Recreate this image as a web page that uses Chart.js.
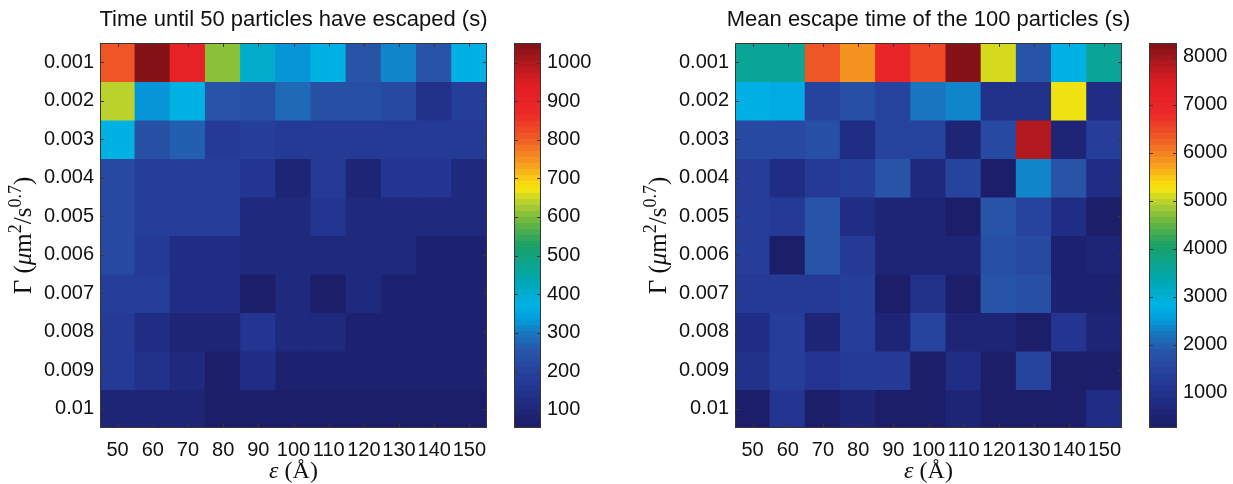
<!DOCTYPE html>
<html><head><meta charset="utf-8">
<script src="https://cdn.jsdelivr.net/npm/chart.js@4.4.1/dist/chart.umd.min.js"></script>
<style>
html,body{margin:0;padding:0;background:#fff;}
#wrap{position:relative;width:1233px;height:484px;overflow:hidden;background:#fff;}
#wrap canvas{position:absolute;top:0;}
</style></head><body>
<div id="wrap">
<canvas id="heatLeft" width="500" height="484" style="left:0px"></canvas>
<canvas id="barLeft" width="135" height="484" style="left:500px"></canvas>
<canvas id="heatRight" width="500" height="484" style="left:635px"></canvas>
<canvas id="barRight" width="98" height="484" style="left:1135px"></canvas>
</div>
<script>
// ---------------- data ----------------
const epsilonLabels = ['50','60','70','80','90','100','110','120','130','140','150'];
const gammaLabels = ['0.001','0.002','0.003','0.004','0.005','0.006','0.007','0.008','0.009','0.01'];

// Time until 50 particles have escaped (s); rows = Gamma, columns = epsilon
const timeUntil50 = [
  [810, 1051, 910, 610, 402, 327, 367, 250, 307, 245, 367],
  [637, 327, 370, 253, 233, 282, 233, 233, 218, 133, 188],
  [367, 230, 268, 173, 185, 170, 170, 165, 165, 165, 165],
  [218, 188, 185, 180, 150, 88, 175, 88, 150, 150, 115],
  [220, 185, 185, 180, 112, 112, 150, 112, 112, 112, 112],
  [215, 165, 130, 130, 112, 112, 112, 112, 112, 80, 80],
  [185, 185, 130, 130, 53, 112, 58, 115, 80, 80, 80],
  [165, 130, 90, 90, 150, 115, 115, 75, 75, 75, 75],
  [165, 135, 112, 62, 122, 70, 70, 70, 70, 70, 70],
  [90, 90, 90, 68, 68, 68, 68, 68, 68, 68, 68]
];

// Mean escape time of the 100 particles (s)
const meanEscapeTime = [
  [3650, 3600, 6300, 5900, 7000, 6450, 8290, 5050, 1800, 2800, 3600],
  [2800, 2700, 1470, 1670, 1470, 2180, 2400, 910, 910, 5200, 790],
  [1630, 1630, 1670, 790, 1470, 1450, 560, 1590, 7900, 560, 1350],
  [1350, 790, 1250, 1350, 1800, 760, 1450, 270, 2330, 1870, 780],
  [1350, 1200, 1800, 830, 620, 620, 350, 1840, 1470, 790, 380],
  [1350, 380, 1800, 1200, 620, 620, 620, 1700, 1600, 420, 620],
  [1250, 1250, 1250, 1300, 330, 900, 350, 1840, 1650, 400, 400],
  [830, 1300, 560, 1300, 580, 1450, 620, 620, 330, 1070, 620],
  [910, 1300, 1070, 1200, 1200, 360, 830, 360, 1450, 380, 380],
  [320, 1070, 350, 620, 380, 380, 620, 380, 380, 380, 830]
];

const leftBarTicks = [100, 200, 300, 400, 500, 600, 700, 800, 900, 1000];
const rightBarTicks = [1000, 2000, 3000, 4000, 5000, 6000, 7000, 8000];

const leftTitle = 'Time until 50 particles have escaped (s)';
const rightTitle = 'Mean escape time of the 100 particles (s)';

// ---------------- style ----------------
const SANS = '"Liberation Sans", Arial, Helvetica, sans-serif';
const SERIF = '"Liberation Serif", "DejaVu Serif", serif';
const TEXT = '#111111';
const FRAME = '#3b3434';
const N_LEVELS = 64;
// jet colormap as it appears in the printed figure
const rampStops = [
  [0.00, 28, 30, 105], [0.06, 32, 44, 132], [0.12, 37, 60, 152], [0.19, 40, 84, 168],
  [0.24, 25, 118, 192], [0.28, 0, 160, 222], [0.315, 0, 178, 230], [0.38, 0, 168, 178],
  [0.47, 25, 160, 105], [0.53, 100, 180, 65], [0.58, 175, 205, 50], [0.625, 250, 230, 12],
  [0.68, 247, 165, 30], [0.75, 240, 95, 38], [0.82, 236, 40, 40], [0.90, 222, 28, 35],
  [0.96, 170, 24, 30], [1.00, 132, 18, 22]
];
function ramp(t) {
  t = Math.max(0, Math.min(1, t));
  for (let i = 1; i < rampStops.length; i++) {
    const a = rampStops[i - 1], b = rampStops[i];
    if (t <= b[0]) {
      const f = (t - a[0]) / (b[0] - a[0]);
      const c = [1, 2, 3].map(k => Math.round(a[k] + (b[k] - a[k]) * f));
      return `rgb(${c[0]},${c[1]},${c[2]})`;
    }
  }
  const l = rampStops[rampStops.length - 1];
  return `rgb(${l[1]},${l[2]},${l[3]})`;
}
function levelColor(v, vmin, vmax) {
  const k = Math.min(N_LEVELS - 1, Math.floor((v - vmin) / (vmax - vmin) * N_LEVELS));
  return ramp(k / (N_LEVELS - 1));
}

function fontOf(p, size) {
  const s = p.sup ? Math.round(size * 0.7) : size;
  return (p.it ? 'italic ' : '') + s + 'px ' + SERIF;
}
function richWidth(ctx, parts, size) {
  let w = 0;
  parts.forEach(p => { ctx.font = fontOf(p, size); p.w = ctx.measureText(p.t).width; w += p.w; });
  return w;
}
function drawRich(ctx, parts, cx, y, size) {
  const total = richWidth(ctx, parts, size);
  let x = cx - total / 2;
  ctx.textAlign = 'left';
  ctx.textBaseline = 'alphabetic';
  parts.forEach(p => {
    ctx.font = fontOf(p, size);
    ctx.fillText(p.t, x, y - (p.sup ? size * 0.42 : 0));
    x += p.w;
  });
}

const xTitleParts = [{t: 'ε', it: true}, {t: ' (Å)'}];
const yTitleParts = [{t: 'Γ'}, {t: ' ('}, {t: 'μ', it: true}, {t: 'm'}, {t: '2', sup: true}, {t: '/s'}, {t: '0.7', sup: true}, {t: ')'}];

function frameAndTicks(chart, ctx, xTicks, yTicks) {
  const a = chart.chartArea;
  ctx.save();
  ctx.strokeStyle = FRAME;
  ctx.lineWidth = 1;
  ctx.beginPath();
  xTicks.forEach(px => {
    px = Math.round(px) + 0.5;
    ctx.moveTo(px, a.bottom); ctx.lineTo(px, a.bottom - 4);
    ctx.moveTo(px, a.top); ctx.lineTo(px, a.top + 4);
  });
  yTicks.forEach(py => {
    py = Math.round(py) + 0.5;
    ctx.moveTo(a.left, py); ctx.lineTo(a.left + 4, py);
    ctx.moveTo(a.right, py); ctx.lineTo(a.right - 4, py);
  });
  ctx.stroke();
  ctx.strokeRect(Math.round(a.left) + 0.5, Math.round(a.top) + 0.5, Math.round(a.right - a.left) - 1, Math.round(a.bottom - a.top) - 1);
  ctx.restore();
}

const heatDecor = {
  id: 'heatDecor',
  afterDraw(chart) {
    const ctx = chart.ctx, a = chart.chartArea;
    const xs = chart.scales.x, ys = chart.scales.y;
    frameAndTicks(chart, ctx,
      xs.ticks.map((t, i) => xs.getPixelForTick(i)),
      ys.ticks.map((t, i) => ys.getPixelForTick(i)));
    ctx.save();
    ctx.fillStyle = TEXT;
    ctx.font = '22px ' + SANS;
    ctx.textAlign = 'center';
    ctx.textBaseline = 'alphabetic';
    ctx.fillText(chart.options.plugins.heatDecor.title, (a.left + a.right) / 2, 26);
    drawRich(ctx, xTitleParts, (a.left + a.right) / 2, 478, 24);
    ctx.translate(31, (a.top + a.bottom) / 2);
    ctx.rotate(-Math.PI / 2);
    drawRich(ctx, yTitleParts, 0, 0, 25);
    ctx.restore();
  }
};

function makeHeatmap(id, values, title) {
  const flat = values.flat();
  const vmin = Math.min(...flat), vmax = Math.max(...flat);
  const datasets = gammaLabels.map((g, r) => ({
    label: g,
    data: epsilonLabels.map(() => [r, r + 1]),
    backgroundColor: values[r].map(v => levelColor(v, vmin, vmax)),
    borderWidth: 0,
    inflateAmount: 0.6,
    barPercentage: 1,
    categoryPercentage: 1,
    grouped: false
  }));
  return new Chart(document.getElementById(id), {
    type: 'bar',
    data: { labels: epsilonLabels, datasets },
    options: {
      responsive: false, animation: false, events: [],
      layout: { padding: { top: 43, right: 13, left: 0, bottom: 0 } },
      plugins: { legend: { display: false }, tooltip: { enabled: false }, heatDecor: { title } },
      scales: {
        x: {
          type: 'category', offset: true,
          grid: { display: false, drawTicks: false }, border: { display: false },
          ticks: { autoSkip: false, maxRotation: 0, minRotation: 0, color: TEXT, padding: 10,
                   font: { family: SANS, size: 20 } },
          afterFit: s => { s.height = 56; }
        },
        y: {
          type: 'linear', min: 0, max: gammaLabels.length, reverse: true,
          grid: { display: false, drawTicks: false }, border: { display: false },
          afterBuildTicks: s => { s.ticks = gammaLabels.map((g, i) => ({ value: i + 0.5 })); },
          ticks: { color: TEXT, padding: 6, font: { family: SANS, size: 20 },
                   callback: (v, i) => gammaLabels[i] },
          afterFit: s => { s.width = 100; }
        }
      }
    },
    plugins: [heatDecor]
  });
}

const barDecor = {
  id: 'barDecor',
  afterDraw(chart) {
    const ys = chart.scales.y;
    frameAndTicks(chart, chart.ctx, [], ys.ticks.map((t, i) => ys.getPixelForTick(i)));
  }
};

function makeColorbar(id, values, tickValues, axisWidth) {
  const flat = values.flat();
  const vmin = Math.min(...flat), vmax = Math.max(...flat);
  const step = (vmax - vmin) / N_LEVELS;
  const datasets = [];
  for (let k = 0; k < N_LEVELS; k++) {
    datasets.push({
      data: [[vmin + k * step, vmin + (k + 1) * step]],
      backgroundColor: ramp(k / (N_LEVELS - 1)),
      borderWidth: 0, inflateAmount: 0.5, barPercentage: 1, categoryPercentage: 1, grouped: false
    });
  }
  return new Chart(document.getElementById(id), {
    type: 'bar',
    data: { labels: [''], datasets },
    options: {
      responsive: false, animation: false, events: [],
      layout: { padding: { top: 43, right: 0, left: 14, bottom: 56 } },
      plugins: { legend: { display: false }, tooltip: { enabled: false } },
      scales: {
        x: { type: 'category', display: false, offset: true },
        y: {
          type: 'linear', position: 'right', min: vmin, max: vmax,
          grid: { display: false, drawTicks: false }, border: { display: false },
          afterBuildTicks: s => { s.ticks = tickValues.map(v => ({ value: v })); },
          ticks: { color: TEXT, padding: 6, font: { family: SANS, size: 20 },
                   callback: v => String(v) },
          afterFit: s => { s.width = axisWidth; }
        }
      }
    },
    plugins: [barDecor]
  });
}

makeHeatmap('heatLeft', timeUntil50, leftTitle);
makeColorbar('barLeft', timeUntil50, leftBarTicks, 94);
makeHeatmap('heatRight', meanEscapeTime, rightTitle);
makeColorbar('barRight', meanEscapeTime, rightBarTicks, 56);
</script>
</body></html>
